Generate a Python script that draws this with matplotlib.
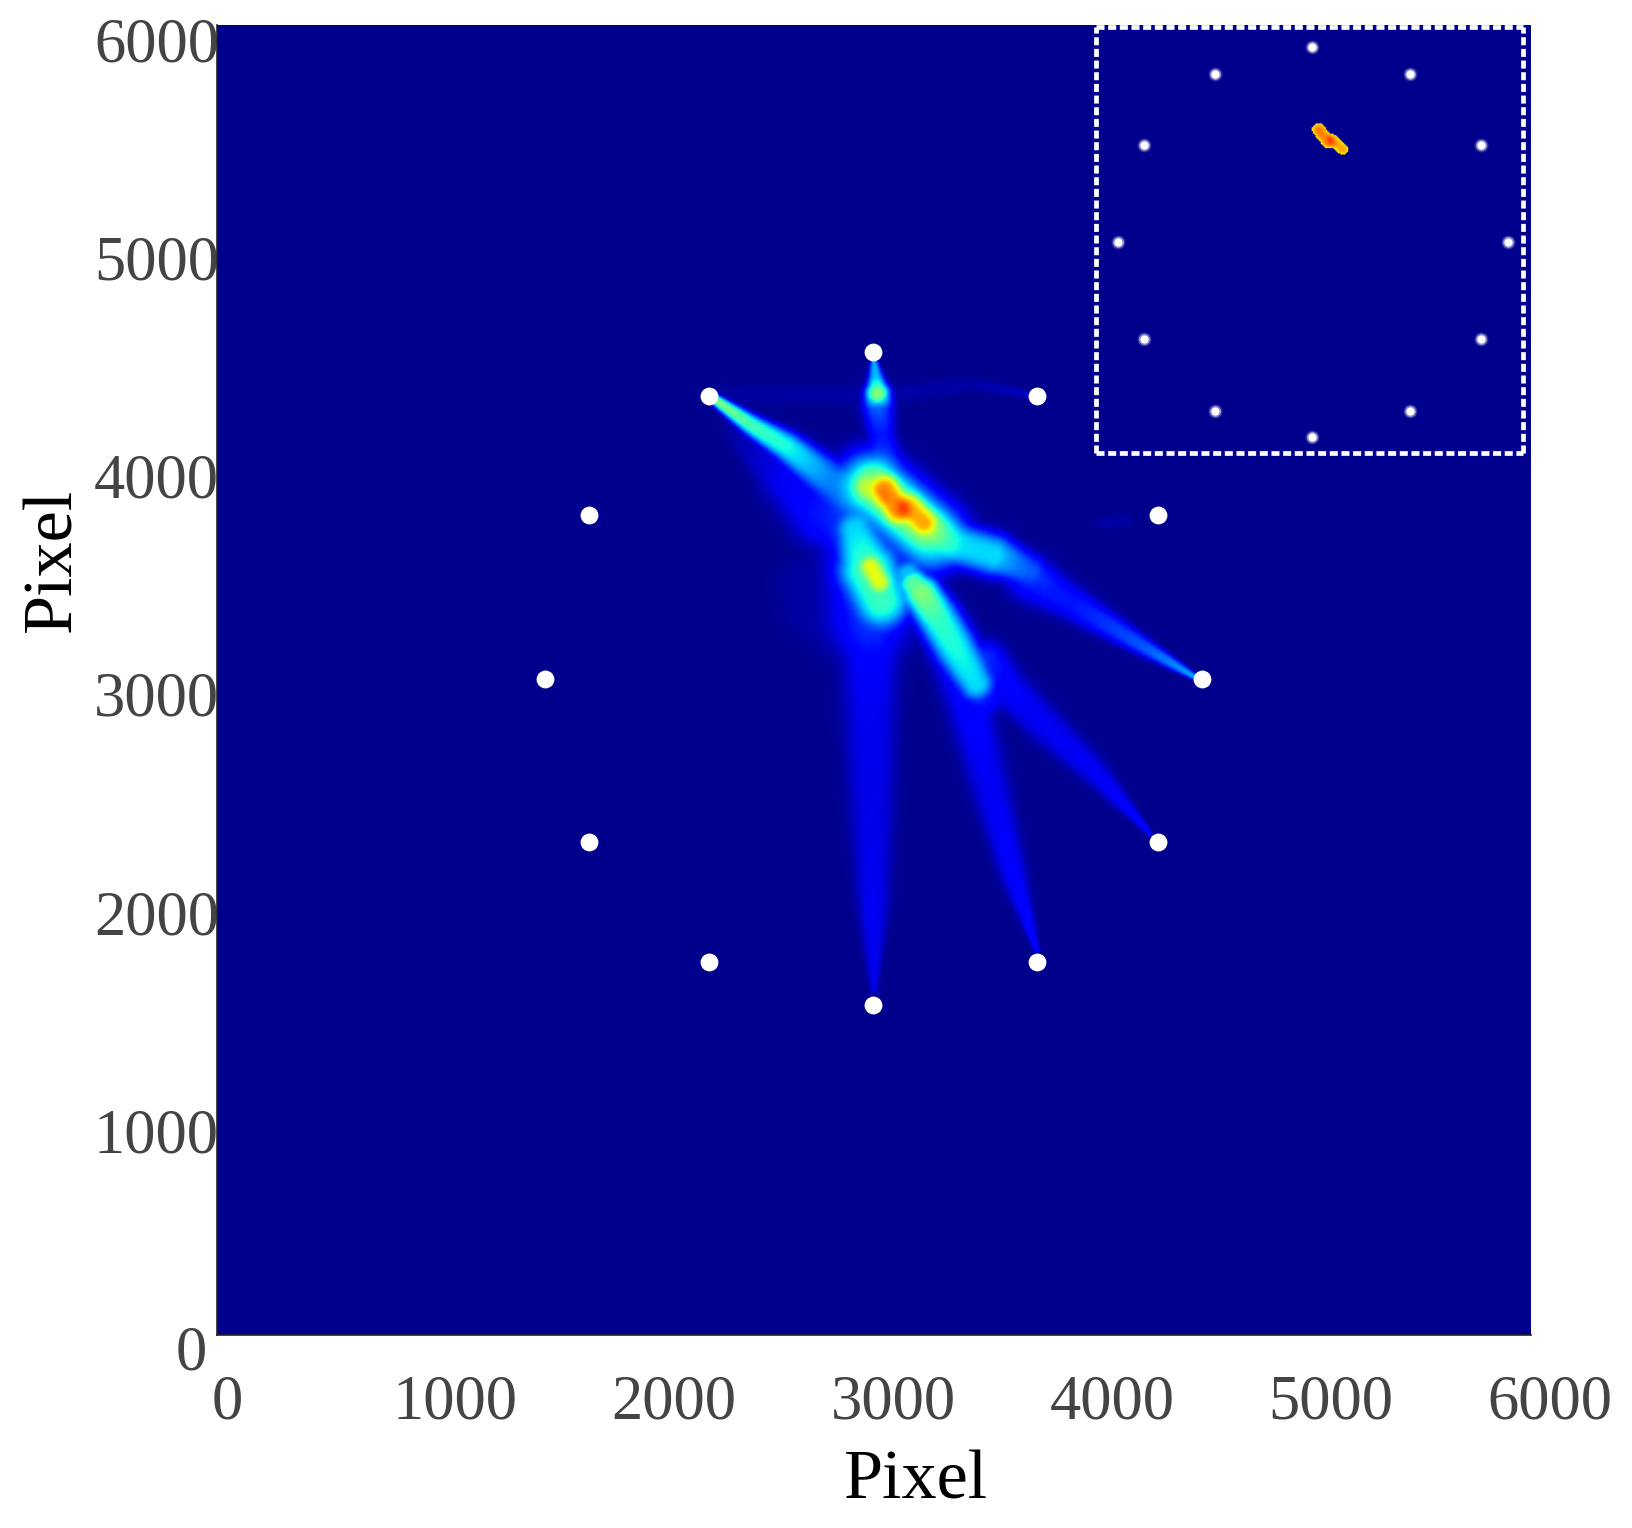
import numpy as np
import matplotlib
matplotlib.use("Agg")
import matplotlib.pyplot as plt
from matplotlib.transforms import ScaledTranslation

plt.rcParams["font.family"] = ["Liberation Serif", "DejaVu Serif"]

W, H = 1633, 1528
SIZE = 6000

# white source points
RING_X = [2996, 3746, 4295, 4496, 4295, 3746, 2996, 2246, 1697, 1500, 1697, 2246]
RING_Y = [4504, 4303, 3754, 3006, 2258, 1710, 1510, 1710, 2258, 3006, 3754, 4303]

XTICKS = [0, 1000, 2000, 3000, 4000, 5000, 6000]
YTICKS = [0, 1000, 2000, 3000, 4000, 5000, 6000]

# intensity field: ridges, station by station
# (x, y along the ridge, peak value 0..1 on jet, width in pixel units)
UL_X = [2262, 2277, 2440, 2603, 2799, 2897]
UL_Y = [4290, 4282, 4168, 4068, 3916, 3839]
UL_P = [0.45, 0.50, 0.42, 0.37, 0.24, 0.20]
UL_W = [12, 20, 38, 55, 75, 85]

FAN_X = [2359, 2603, 2766, 2848]
FAN_Y = [4145, 3916, 3763, 3687]
FAN_P = [0.02, 0.09, 0.13, 0.12]
FAN_W = [40, 95, 120, 90]

LR_X = [4463, 4234, 3908, 3712]
LR_Y = [3015, 3152, 3351, 3465]
LR_P = [0.28, 0.20, 0.13, 0.14]
LR_W = [12, 34, 62, 85]

LR2_X = [3780, 3712, 3549, 3370, 3288]
LR2_Y = [3465, 3503, 3572, 3625, 3687]
LR2_P = [0.10, 0.18, 0.33, 0.33, 0.30]
LR2_W = [50, 60, 78, 78, 70]

PLATEAU_X = [2985, 3260]
PLATEAU_Y = [3890, 3660]
PLATEAU_P = [0.37, 0.37]
PLATEAU_W = [130, 130]

GREEN_X = [3000, 3230]
GREEN_Y = [3890, 3700]
GREEN_P = [0.43, 0.43]
GREEN_W = [95, 95]

SHOULDER_X = [2962, 3027]
SHOULDER_Y = [3885, 3839]
SHOULDER_P = [0.41, 0.41]
SHOULDER_W = [45, 45]

HOT1_X = [3052, 3109]
HOT1_Y = [3877, 3778]
HOT1_P = [0.67, 0.67]
HOT1_W = [60, 60]

HOT2_X = [3160, 3225]
HOT2_Y = [3793, 3725]
HOT2_P = [0.63, 0.63]
HOT2_W = [58, 58]

LOWER_X = [2913, 2978, 3036]
LOWER_Y = [3687, 3503, 3366]
LOWER_P = [0.32, 0.42, 0.40]
LOWER_W = [72, 115, 105]

CORE_X = [2985, 3025]
CORE_Y = [3520, 3450]
CORE_P = [0.55, 0.55]
CORE_W = [45, 45]

HALO_X = [2881, 2978]
HALO_Y = [3748, 3290]
HALO_P = [0.12, 0.13]
HALO_W = [110, 160]

STREAK_X = [3158, 3182, 3220, 3300, 3370, 3468, 3517]
STREAK_Y = [3488, 3442, 3395, 3270, 3152, 2984, 2908]
STREAK_P = [0.30, 0.45, 0.50, 0.40, 0.37, 0.33, 0.12]
STREAK_W = [50, 55, 68, 78, 80, 65, 55]

TOP_X = [3000, 3008, 3016, 3019, 3035, 3052]
TOP_Y = [4465, 4389, 4313, 4244, 4129, 3992]
TOP_P = [0.28, 0.30, 0.50, 0.20, 0.13, 0.16]
TOP_W = [12, 28, 45, 55, 50, 64]

FAINT_X = [2310, 3093, 3451, 3712]
FAINT_Y = [4305, 4305, 4358, 4305]
FAINT_P = [0.015, 0.02, 0.02, 0.05]
FAINT_W = [35, 35, 22, 14]

SPECK_X = [4039, 4153]
SPECK_Y = [3717, 3732]
SPECK_P = [0.02, 0.02]
SPECK_W = [20, 20]

SMUDGE_X = [2680, 2720]
SMUDGE_Y = [3440, 3300]
SMUDGE_P = [0.02, 0.02]
SMUDGE_W = [100, 100]

BOTTOM_X = [3000, 2997, 2990, 2982, 2985]
BOTTOM_Y = [1580, 1961, 2419, 2878, 3336]
BOTTOM_P = [0.08, 0.09, 0.08, 0.09, 0.12]
BOTTOM_W = [14, 55, 80, 95, 110]

BOTTOM2_X = [3743, 3636, 3515, 3438, 3362]
BOTTOM2_Y = [1763, 2114, 2572, 2878, 3107]
BOTTOM2_P = [0.11, 0.10, 0.09, 0.11, 0.12]
BOTTOM2_W = [12, 48, 72, 80, 80]

BOTTOM3_X = [4260, 4017, 3789, 3606, 3515]
BOTTOM3_Y = [2297, 2572, 2786, 2969, 3091]
BOTTOM3_P = [0.11, 0.09, 0.09, 0.10, 0.15]
BOTTOM3_W = [10, 48, 66, 72, 72]

RIDGES = [
    (UL_X, UL_Y, UL_P, UL_W),
    (FAN_X, FAN_Y, FAN_P, FAN_W),
    (LR_X, LR_Y, LR_P, LR_W),
    (LR2_X, LR2_Y, LR2_P, LR2_W),
    (PLATEAU_X, PLATEAU_Y, PLATEAU_P, PLATEAU_W),
    (GREEN_X, GREEN_Y, GREEN_P, GREEN_W),
    (SHOULDER_X, SHOULDER_Y, SHOULDER_P, SHOULDER_W),
    (HOT1_X, HOT1_Y, HOT1_P, HOT1_W),
    (HOT2_X, HOT2_Y, HOT2_P, HOT2_W),
    (LOWER_X, LOWER_Y, LOWER_P, LOWER_W),
    (CORE_X, CORE_Y, CORE_P, CORE_W),
    (HALO_X, HALO_Y, HALO_P, HALO_W),
    (STREAK_X, STREAK_Y, STREAK_P, STREAK_W),
    (TOP_X, TOP_Y, TOP_P, TOP_W),
    (FAINT_X, FAINT_Y, FAINT_P, FAINT_W),
    (SPECK_X, SPECK_Y, SPECK_P, SPECK_W),
    (SMUDGE_X, SMUDGE_Y, SMUDGE_P, SMUDGE_W),
    (BOTTOM_X, BOTTOM_Y, BOTTOM_P, BOTTOM_W),
    (BOTTOM2_X, BOTTOM2_Y, BOTTOM2_P, BOTTOM2_W),
    (BOTTOM3_X, BOTTOM3_Y, BOTTOM3_P, BOTTOM3_W),
]

INSET_THRESHOLD = 0.64


def ridge_layer(gx, gy, xs, ys, ps, ws):
    """Paint one ridge on the grid, keeping the strongest segment per cell."""
    layer = np.zeros_like(gx)
    for i in range(len(xs) - 1):
        dx, dy = xs[i + 1] - xs[i], ys[i + 1] - ys[i]
        t = ((gx - xs[i]) * dx + (gy - ys[i]) * dy) / (dx * dx + dy * dy)
        t = np.clip(t, 0.0, 1.0)
        dist = np.hypot(gx - (xs[i] + t * dx), gy - (ys[i] + t * dy))
        peak = ps[i] + t * (ps[i + 1] - ps[i])
        width = ws[i] + t * (ws[i + 1] - ws[i])
        layer = np.maximum(layer, peak * np.exp(-0.5 * (dist / width) ** 3))
    return layer


def build_field(n=600):
    centers = (np.arange(n) + 0.5) * SIZE / n
    gx, gy = np.meshgrid(centers, centers)
    total = np.zeros_like(gx)
    for xs, ys, ps, ws in RIDGES:
        total += ridge_layer(gx, gy, xs, ys, ps, ws) ** 3
    return np.cbrt(total)


def shift_label(label, fig, dx_px, dy_px):
    offset = ScaledTranslation(dx_px / fig.dpi, dy_px / fig.dpi, fig.dpi_scale_trans)
    label.set_transform(label.get_transform() + offset)


def main():
    field = build_field()
    fig = plt.figure(figsize=(W / 100, H / 100), dpi=100)

    ax = fig.add_axes([217 / W, (H - 1335) / H, 1314 / W, 1310 / H])
    ax.imshow(field, origin="lower", extent=(0, SIZE, 0, SIZE), cmap="jet",
              vmin=-0.015, vmax=1.0, interpolation="bilinear", aspect="auto")
    ax.scatter(RING_X, RING_Y, s=165, c="white", linewidths=0, zorder=3)
    ax.set_xlim(0, SIZE)
    ax.set_ylim(0, SIZE)

    ax.set_xticks(XTICKS)
    ax.set_yticks(YTICKS)
    ax.tick_params(length=0, labelsize=45, labelcolor="#444444")
    ax.tick_params(axis="x", pad=28.5)
    ax.tick_params(axis="y", pad=0)
    for value, label in zip(XTICKS, ax.get_xticklabels()):
        shift_label(label, fig, 10 if value == 0 else 19, 0)
    for value, label in zip(YTICKS, ax.get_yticklabels()):
        shift_label(label, fig, -10 if value == 0 else 2, -12 if value == 0 else -14)

    ax.set_xlabel("Pixel", fontsize=50.5, color="black", va="baseline")
    ax.xaxis.set_label_coords(0.532, -0.125)
    ax.set_ylabel("Pixel", fontsize=50.5, color="black", va="center")
    ax.yaxis.set_label_coords(-0.124, 0.592)

    for side in ("top", "right"):
        ax.spines[side].set_visible(False)
    for side in ("left", "bottom"):
        ax.spines[side].set_color("#222222")
        ax.spines[side].set_linewidth(1.2)

    # zoomed-out copy showing only the strongest part of the field
    inset = fig.add_axes([1096 / W, (H - 453) / H, 427 / W, 426 / H])
    strong = np.where(field >= INSET_THRESHOLD, field, 0.0)
    inset.imshow(strong, origin="lower", extent=(0, SIZE, 0, SIZE), cmap="jet",
                 vmin=-0.015, vmax=1.0, interpolation="bilinear", aspect="auto")
    # soft-edged dots
    for size, alpha in [(100, 0.2), (64, 0.45), (34, 1.0)]:
        inset.scatter(RING_X, RING_Y, s=size, c="white", alpha=alpha, linewidths=0, zorder=3)
    inset.set_xlim(1331, 4615)
    inset.set_ylim(1385, 4661)
    inset.set_xticks([])
    inset.set_yticks([])
    for spine in inset.spines.values():
        spine.set_color("white")
        spine.set_linewidth(3.4)
        spine.set_linestyle((0, (1.7, 0.77)))
        spine.set_capstyle("butt")

    fig.savefig("out.png", dpi=100, facecolor="white")


if __name__ == "__main__":
    main()
